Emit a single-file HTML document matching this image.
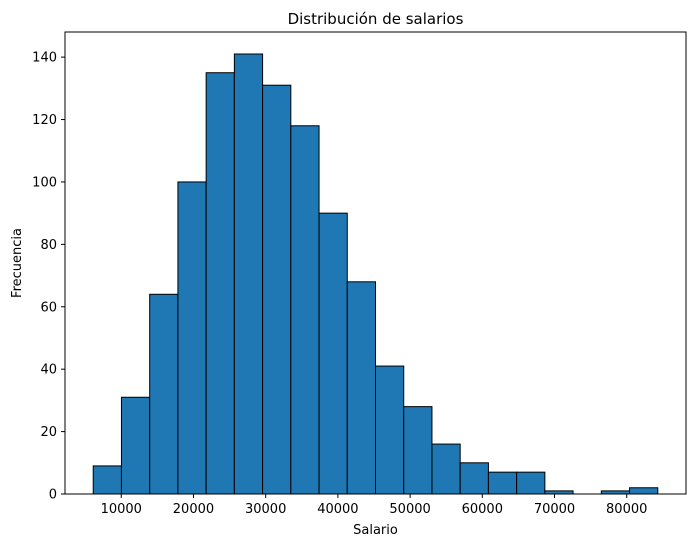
<!DOCTYPE html>
<html><head><meta charset="utf-8"><style>
body{margin:0;background:#fff;font-family:"Liberation Sans","DejaVu Sans",sans-serif;}
svg text{font-family:"DejaVu Sans","Liberation Sans",sans-serif;}
</style></head><body>
<svg id="chart" width="695" height="547" xmlns="http://www.w3.org/2000/svg"></svg>
<script>
const binStart = 6119;
const binEnd = 84300;
const counts = [9,31,64,100,135,141,131,118,90,68,41,28,16,10,7,7,1,0,1,2];
const xTicks = [10000,20000,30000,40000,50000,60000,70000,80000];
const yTicks = [0,20,40,60,80,100,120,140];

const L=65,R=686,T=32,B=494;
const span=binEnd-binStart, xmin=binStart-0.05*span, xmax=binEnd+0.05*span;
const ymax=Math.max(...counts)*1.05;
const sx=v=>L+(v-xmin)/(xmax-xmin)*(R-L);
const sy=v=>B-v/ymax*(B-T);
const svg=document.getElementById('chart');
const NS='http://www.w3.org/2000/svg';
function mk(tag,attrs,parent){const e=document.createElementNS(NS,tag);for(const k in attrs)e.setAttribute(k,attrs[k]);(parent||svg).appendChild(e);return e;}
const bw=span/counts.length;
counts.forEach((c,i)=>{
  const x0=sx(binStart+i*bw),x1=sx(binStart+(i+1)*bw);
  const r=mk('rect',{x:x0,y:sy(c),width:x1-x0,height:B-sy(c),fill:'#1f77b4',stroke:'#000','stroke-width':1});
  
  
});
const frame=mk('rect',{x:L,y:T,width:R-L,height:B-T,fill:'none',stroke:'#000','stroke-width':1});


xTicks.forEach(v=>{
  const x=sx(v);
  mk('line',{x1:x,x2:x,y1:B,y2:B+4,stroke:'#000'});
  const t=mk('text',{x:x,y:B+19,'text-anchor':'middle','font-size':13});
  t.textContent=v;
  
  
});
yTicks.forEach(v=>{
  const y=sy(v);
  mk('line',{x1:L-4,x2:L,y1:y,y2:y,stroke:'#000'});
  const t=mk('text',{x:L-8,y:y+4.5,'text-anchor':'end','font-size':13});
  t.textContent=v;
  
  
});
const title=mk('text',{x:(L+R)/2,y:24,'text-anchor':'middle','font-size':15});
title.textContent='Distribución de salarios';


const xl=mk('text',{x:(L+R)/2,y:534,'text-anchor':'middle','font-size':13});
xl.textContent='Salario';


const yl=mk('text',{x:21,y:(T+B)/2,'text-anchor':'middle','font-size':13,transform:'rotate(-90 21 '+((T+B)/2)+')'});
yl.textContent='Frecuencia';


</script>
</body></html>
